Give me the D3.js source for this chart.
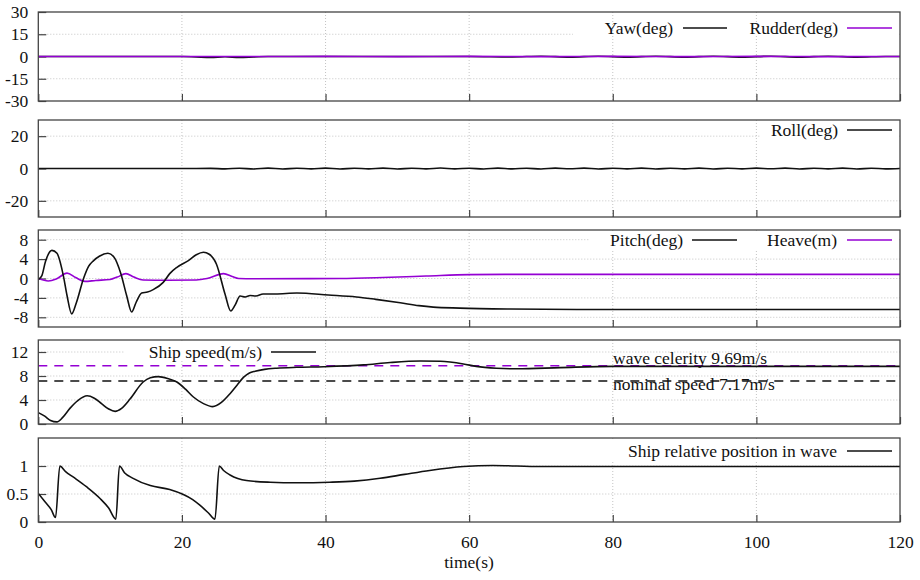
<!DOCTYPE html>
<html><head><meta charset="utf-8">
<script src="https://cdn.jsdelivr.net/npm/d3@7"></script>
<style>
html,body{margin:0;padding:0;background:#fff;}
svg{display:block;}
text{font-family:"Liberation Serif","Times New Roman",serif;}
</style></head>
<body>
<svg id="chart" width="920" height="580"></svg>
<script>
// ---------- DATA ----------
const timeTicks = [0, 20, 40, 60, 80, 100, 120];
const yTicksYaw = [30, 15, 0, -15, -30];
const yTicksRoll = [20, 0, -20];
const yTicksPitch = [8, 4, 0, -4, -8];
const yTicksSpeed = [12, 8, 4, 0];
const yTicksPos = [1, 0.5, 0];

const yaw = [[0,0],[20,0],[22,-0.3],[24,-0.6],[26,-0.2],[28,-0.6],[30,-0.3],[32,0],[60,0],[66,-0.3],[70,0.2],[74,-0.4],[78,0.2],[82,-0.4],[86,0.2],[90,-0.4],[94,0.2],[98,-0.4],[102,0.2],[106,-0.4],[110,0.2],[114,-0.4],[118,0],[120,0]];
const rudder = [[0,0],[30,0],[40,0.1],[50,-0.1],[60,0.1],[70,-0.1],[80,0.1],[90,-0.1],[100,0.1],[110,-0.1],[120,0]];
const roll = [[0,0],[20,0],[24,0.05],[26,-0.25],[28,0.2],[30,-0.3],[32,0.25],[34,-0.3],[36,0.2],[38,-0.25],[40,0.25],[42,-0.3],[44,0.2],[46,-0.25],[48,0.25],[50,-0.3],[52,0.2],[54,-0.25],[56,0.3],[58,-0.25],[60,0.2],[62,-0.3],[64,0.25],[66,-0.25],[68,0.2],[70,-0.3],[72,0.25],[74,-0.2],[76,0.25],[78,-0.3],[80,0.2],[82,-0.25],[84,0.25],[86,-0.3],[88,0.2],[90,-0.25],[92,0.25],[94,-0.3],[96,0.2],[98,-0.25],[100,0.25],[102,-0.2],[104,0.25],[106,-0.3],[108,0.2],[110,-0.25],[112,0.25],[114,-0.3],[116,0.2],[118,-0.25],[120,0]];
const pitch = [[0,-0.2],[0.5,0.6],[1,3.5],[1.9,5.8],[2.6,5.2],[3.5,0.5],[4.0,-3.5],[4.65,-7.3],[5.3,-5],[6.3,0],[7,2.5],[7.7,3.7],[8.5,4.6],[9.7,5.2],[10.5,4.5],[11.5,1],[12.3,-3.5],[13,-6.9],[13.6,-5],[14.4,-3],[15.2,-2.8],[16,-2.3],[17.4,-0.8],[18.3,1],[19.3,2.3],[20.9,3.7],[22,4.9],[23,5.4],[23.8,5.0],[24.8,3.0],[26,-3.2],[26.8,-6.7],[27.4,-5.5],[28.1,-3.6],[28.8,-3.8],[29.5,-3.5],[30.3,-3.6],[31.3,-3.2],[33,-3.2],[36,-3.0],[40.4,-3.4],[44.3,-3.8],[47,-4.3],[50.4,-5.0],[53,-5.6],[55,-5.9],[58.7,-6.1],[65.7,-6.3],[75,-6.4],[120,-6.4]];
const heave = [[0,0],[1.4,-0.5],[2.5,-0.1],[4.0,1.1],[5.2,0.2],[6.5,-0.6],[8,-0.4],[10,-0.2],[11,0.3],[12.2,1.0],[13.3,0.3],[14.6,-0.3],[18,-0.35],[22,-0.3],[23.5,0],[25.8,1.0],[27,0.4],[27.9,0],[30,-0.05],[42,0],[48,0.2],[54,0.5],[60,0.8],[65,0.85],[120,0.85]];
const shipSpeed = [[0,1.9],[0.9,1.3],[1.7,0.6],[2.6,0.35],[3.4,1.1],[4.4,2.6],[5.5,3.9],[6.8,4.7],[7.8,4.3],[8.8,3.4],[9.8,2.5],[10.7,2.1],[11.6,2.6],[12.8,4.2],[14.6,7.0],[15.6,7.7],[16.7,7.9],[18,7.6],[19.3,7.0],[20.5,5.8],[21.6,4.5],[23,3.4],[24.3,2.9],[25.5,3.6],[26.7,5.05],[27.7,6.5],[28.6,7.8],[29.4,8.5],[30.2,8.8],[31.5,9.1],[33.2,9.3],[36,9.45],[39.7,9.55],[45.3,9.85],[49,10.25],[53.2,10.5],[56,10.45],[59.2,10.0],[61,9.6],[63.8,9.3],[66.7,9.2],[72.7,9.4],[80,9.6],[120,9.6]];
const waveCelerity = 9.69;
const nominalSpeed = 7.17;
const relPosition = [[0,0.51],[0.93,0.36],[1.8,0.22],[2.4,0.08],[3.0,1.0],[3.8,0.9],[4.9,0.8],[6.7,0.63],[8.6,0.42],[9.8,0.25],[10.8,0.05],[11.3,1.0],[12,0.88],[13.2,0.78],[15.6,0.65],[18.3,0.58],[20.2,0.49],[21.5,0.4],[22.5,0.3],[23.7,0.16],[24.6,0.05],[25.2,1.0],[25.8,0.92],[26.7,0.84],[29,0.74],[32.3,0.71],[36,0.7],[40.6,0.71],[44,0.73],[47.6,0.78],[51,0.85],[54.5,0.92],[59.2,0.99],[63.3,1.01],[70,0.99],[120,0.99]];

// ---------- LAYOUT ----------
const BLACK = "#111", PURPLE = "#9400d3";
const FS = 17.5;
const svg = d3.select("#chart");
const x = d3.scaleLinear().domain([0, 120]).range([38.3, 900]);

const panels = [
  {top:12, bottom:101, domain:[-30,30], ticks:yTicksYaw,
   series:[{d:yaw,c:BLACK},{d:rudder,c:PURPLE}],
   box:[573,31,326,5],
   legend:[{t:"Yaw(deg)",end:673,l0:683,l1:727,c:BLACK,y:28},{t:"Rudder(deg)",end:838,l0:847,l1:892,c:PURPLE,y:28}]},
  {top:120, bottom:217, domain:[-30,30], ticks:yTicksRoll,
   series:[{d:roll,c:BLACK}],
   box:[760,121,139,19],
   legend:[{t:"Roll(deg)",end:838,l0:847,l1:892,c:BLACK,y:130}]},
  {top:230, bottom:327, domain:[-10,10], ticks:yTicksPitch,
   series:[{d:heave,c:PURPLE},{d:pitch,c:BLACK}],
   box:[590,231,309,19],
   legend:[{t:"Pitch(deg)",end:683,l0:692,l1:737,c:BLACK,y:240},{t:"Heave(m)",end:837,l0:847,l1:892,c:PURPLE,y:240}]},
  {top:340, bottom:424, domain:[0,14], ticks:yTicksSpeed,
   series:[{d:shipSpeed,c:BLACK}],
   box:[125,341,200,20],
   legend:[{t:"Ship speed(m/s)",end:262,l0:271,l1:316,c:BLACK,y:352}]},
  {top:438, bottom:522, domain:[0,1.5], ticks:yTicksPos,
   series:[{d:relPosition,c:BLACK}],
   box:[600,439,299,21],
   legend:[{t:"Ship relative position in wave",end:837,l0:847,l1:892,c:BLACK,y:451}]}
];

panels.forEach((p, i) => {
  const y = d3.scaleLinear().domain(p.domain).range([p.bottom, p.top]);
  const g = svg.append("g");
  const clipId = "clip" + i;
  svg.append("clipPath").attr("id", clipId).append("rect")
    .attr("x", x(0)).attr("y", p.top).attr("width", x(120) - x(0)).attr("height", p.bottom - p.top);

  // grid
  const grid = g.append("g").attr("stroke", "#c4c4c4").attr("stroke-width", 1).attr("stroke-dasharray", "1,2");
  timeTicks.filter(t => t > 0 && t < 120).forEach(t => {
    grid.append("line").attr("x1", x(t)).attr("x2", x(t)).attr("y1", p.top).attr("y2", p.bottom);
  });
  p.ticks.filter(v => v > p.domain[0] && v < p.domain[1]).forEach(v => {
    grid.append("line").attr("x1", x(0)).attr("x2", x(120)).attr("y1", y(v)).attr("y2", y(v));
  });

  // legend background
  g.append("rect").attr("x", p.box[0]).attr("y", p.box[1]).attr("width", p.box[2]).attr("height", p.box[3]).attr("fill", "#fff");

  // y axis (inward ticks)
  const ya = g.append("g").attr("transform", `translate(${x(0)},0)`)
    .call(d3.axisLeft(y).tickValues(p.ticks).tickSize(-8).tickPadding(10)
      .tickFormat(d => String(d)));
  ya.select(".domain").remove();
  ya.selectAll("line").attr("stroke", "#444").attr("stroke-width", 1.2);
  ya.selectAll("text").style("font-family", "'Liberation Serif', serif").attr("font-size", FS).attr("fill", "#111");

  // x axis ticks (inward, bottom)
  const xa = g.append("g").attr("transform", `translate(0,${p.bottom})`)
    .call(d3.axisBottom(x).tickValues(timeTicks).tickSize(-7).tickPadding(14)
      .tickFormat(i === panels.length - 1 ? (d => String(d)) : ""));
  xa.select(".domain").remove();
  xa.selectAll("line").attr("stroke", "#444").attr("stroke-width", 1.2);
  xa.selectAll("text").style("font-family", "'Liberation Serif', serif").attr("font-size", FS).attr("fill", "#111");

  // reference dashed lines for speed panel
  if (i === 3) {
    const ref = g.append("g").attr("clip-path", `url(#${clipId})`);
    ref.append("line").attr("x1", x(0)).attr("x2", x(120)).attr("y1", y(waveCelerity)).attr("y2", y(waveCelerity))
      .attr("stroke", PURPLE).attr("stroke-width", 1.5).attr("stroke-dasharray", "9,7");
    ref.append("line").attr("x1", x(0)).attr("x2", x(120)).attr("y1", y(nominalSpeed)).attr("y2", y(nominalSpeed))
      .attr("stroke", BLACK).attr("stroke-width", 1.5).attr("stroke-dasharray", "9,7");
    g.append("text").attr("x", 613).attr("y", 358).attr("dy", "0.35em").attr("font-size", FS).attr("fill", "#111")
      .text("wave celerity " + waveCelerity + "m/s");
    g.append("text").attr("x", 613).attr("y", 384).attr("dy", "0.35em").attr("font-size", FS).attr("fill", "#111")
      .text("nominal speed " + nominalSpeed + "m/s");
  }

  // series
  const line = d3.line().x(d => x(d[0])).y(d => y(d[1])).curve(d3.curveMonotoneX);
  const sg = g.append("g").attr("clip-path", `url(#${clipId})`);
  p.series.forEach(s => {
    sg.append("path").datum(s.d).attr("d", line).attr("fill", "none")
      .attr("stroke", s.c).attr("stroke-width", 1.6).attr("stroke-linejoin", "round");
  });

  // legend
  p.legend.forEach(l => {
    g.append("text").attr("x", l.end).attr("y", l.y).attr("dy", "0.35em").attr("text-anchor", "end")
      .attr("font-size", FS).attr("fill", "#111").text(l.t);
    g.append("line").attr("x1", l.l0).attr("x2", l.l1).attr("y1", l.y).attr("y2", l.y)
      .attr("stroke", l.c).attr("stroke-width", 1.5);
  });

  // frame
  g.append("rect").attr("x", x(0)).attr("y", p.top).attr("width", x(120) - x(0)).attr("height", p.bottom - p.top)
    .attr("fill", "none").attr("stroke", "#444").attr("stroke-width", 1.3);
});

svg.append("text").attr("x", 469).attr("y", 562).attr("dy", "0.35em").attr("text-anchor", "middle")
  .attr("font-size", FS).attr("fill", "#111").text("time(s)");
</script>
</body></html>
